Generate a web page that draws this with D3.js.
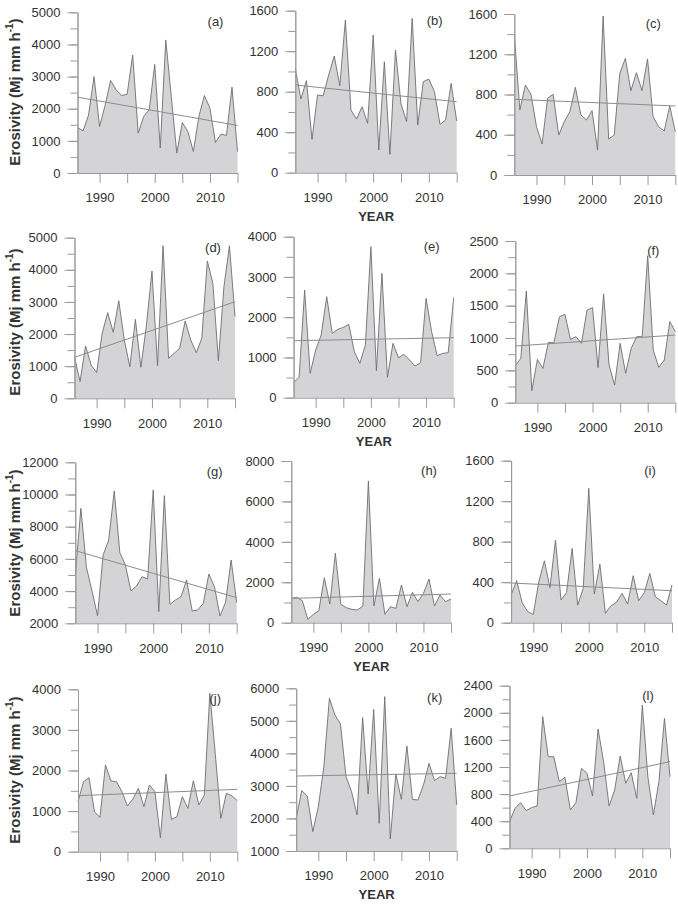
<!DOCTYPE html>
<html><head><meta charset="utf-8">
<script src="https://cdn.jsdelivr.net/npm/d3@7"></script>
<style>body{margin:0;background:#fff} svg{display:block}</style>
</head><body>
<svg id="chart" width="678" height="910"></svg>
<script>
// ---------- data ----------
const years = [1986,1987,1988,1989,1990,1991,1992,1993,1994,1995,1996,1997,1998,1999,2000,
               2001,2002,2003,2004,2005,2006,2007,2008,2009,2010,2011,2012,2013,2014,2015];
const panelLabels = ['(a)','(b)','(c)','(d)','(e)','(f)','(g)','(h)','(i)','(j)','(k)','(l)'];
const seriesA = [1420,1310,1800,3000,1450,2100,2880,2590,2410,2450,3670,1240,1760,1970,3380,780,4140,2380,620,1570,1290,670,1760,2410,2020,950,1210,1170,2670,670];
const seriesB = [1030,728,909,329,767,760,965,1152,859,1508,619,530,652,487,1360,224,1096,181,1211,678,504,1524,471,899,925,800,477,520,882,510];
const seriesC = [1400,646,894,802,480,308,762,802,397,530,629,871,596,547,639,248,1580,358,397,1010,1159,838,1017,838,1153,580,480,437,686,430];
const seriesD = [1297,519,1629,1037,799,2023,2666,2054,3039,1815,985,2458,965,2282,3963,1017,4751,1245,1400,1556,2407,1815,1421,1867,4274,3579,1172,3475,4751,2541];
const seriesE = [381,505,2675,605,1184,1557,2509,1598,1698,1747,1822,1143,853,1308,3752,671,3089,505,1350,994,1077,936,787,870,2468,1640,1043,1101,1118,2484];
const seriesF = [572,686,1727,186,670,531,933,928,1330,1366,979,1021,918,1433,1469,541,1680,582,273,918,454,840,1021,1021,2273,814,546,660,1253,1098];
const seriesG = [4961,9143,5478,4000,2476,6244,7176,10220,6389,5623,4008,4319,4898,4754,10282,2725,9930,3180,3449,3656,4691,2766,2828,3242,5064,4277,2455,3304,5933,3284];
const seriesH = [1204,1254,1089,165,412,594,2228,924,3432,908,743,660,627,825,7013,825,2195,412,792,709,1865,792,1502,1040,1452,2162,825,1370,1040,1172];
const seriesI = [273,415,198,109,82,405,612,346,816,224,300,734,174,339,1327,283,579,92,168,201,290,184,464,217,296,487,257,217,174,372];
const seriesJ = [1232,1725,1823,986,846,2136,1741,1725,1478,1125,1298,1561,1109,1643,1478,345,1914,797,862,1355,1068,1749,1150,1396,3901,2400,821,1437,1380,1257];
const seriesK = [2004,2855,2691,1594,2363,3600,5693,5180,4904,3285,2824,2107,5098,2752,5355,1850,5744,1369,3367,2588,4227,2588,2568,3029,3695,3162,3285,3234,4770,2414];
const seriesL = [393,590,674,556,600,625,1943,1352,1352,984,1048,566,674,1180,1107,772,1761,1279,625,861,1362,959,1116,738,2115,1057,492,984,1918,1057];
const allSeries = [seriesA,seriesB,seriesC,seriesD,seriesE,seriesF,seriesG,seriesH,seriesI,seriesJ,seriesK,seriesL];
// linear trend values at 1986 and 2015
const trendStart = [2360,866,752,1276,1416,876,6513,1204,392,1380,3305,772];
const trendEnd   = [1480,701,686,3008,1491,1046,3594,1419,316,1536,3387,1279];
// y-axis ranges and tick steps
const yMin  = [0,0,0,0,0,0,2000,0,0,0,1000,0];
const yMax  = [5000,1600,1600,5000,4000,2500,12000,8000,1600,4000,6000,2400];
const yStep = [1000,400,400,1000,1000,500,2000,2000,400,1000,1000,400];
const xTicks = [1990,1995,2000,2005,2010,2015];
const xLabelled = [1990,2000,2010];

// ---------- layout (pixel boxes: left, right, top, bottom) ----------
const layout = [
  [77.5,237.5,12.3,173],[295.3,456.7,10.7,172.7],[514.3,675.3,14,175],
  [74.5,235,237.7,398.3],[293.6,453.7,236.7,397.7],[515.3,675.3,241,402.7],
  [75.3,236.7,462.3,623.3],[291.3,451,461,622.7],[511.1,672,460.7,622.7],
  [78,237.3,689.3,851.7],[296.2,456.7,688.3,851],[509.5,670,685.7,848.3]
];
const rowTitleY = [92, 322, 543, 770];

const svg = d3.select('#chart');
const font = 'Liberation Sans, Arial, sans-serif';
const axisCol = '#9a9a9a', textCol = '#333';

allSeries.forEach((vals, i) => {
  const [L,R,T,B] = layout[i];
  const x = d3.scaleLinear().domain([1986,2015]).range([L,R]);
  const y = d3.scaleLinear().domain([yMin[i], yMax[i]]).range([B,T]);
  const g = svg.append('g');
  const data = years.map((yr,k)=>({yr, v: vals[k]}));

  g.append('path').datum(data)
    .attr('d', d3.area().x(d=>x(d.yr)).y0(B).y1(d=>y(d.v)))
    .attr('fill','#d4d4d6').attr('stroke','none');
  g.append('path').datum(data)
    .attr('d', d3.line().x(d=>x(d.yr)).y(d=>y(d.v)))
    .attr('fill','none').attr('stroke','#6e6e6e').attr('stroke-width',0.9);
  // trend
  g.append('line')
    .attr('x1',x(1986)).attr('y1',y(trendStart[i]))
    .attr('x2',x(2015)).attr('y2',y(trendEnd[i]))
    .attr('stroke','#8c8c8c').attr('stroke-width',1);

  // y axis: minor
  const minorVals = d3.range(yMin[i], yMax[i]+1e-9, yStep[i]/2);
  const majorVals = d3.range(yMin[i], yMax[i]+1e-9, yStep[i]);
  const yMinor = g.append('g').attr('transform',`translate(${L},0)`)
    .call(d3.axisLeft(y).tickValues(minorVals).tickSize(7).tickSizeOuter(0).tickFormat(''));
  const yMajor = g.append('g').attr('transform',`translate(${L},0)`)
    .call(d3.axisLeft(y).tickValues(majorVals).tickSize(10).tickSizeOuter(0).tickPadding(7).tickFormat(d3.format('d')));
  // x axis
  const xAx = g.append('g').attr('transform',`translate(0,${B})`)
    .call(d3.axisBottom(x).tickValues(xTicks).tickSize(10).tickSizeOuter(0).tickPadding(10)
      .tickFormat(d => xLabelled.includes(d) ? d : ''));
  [yMinor,yMajor,xAx].forEach(a=>{
    a.selectAll('path,line').attr('stroke',axisCol).attr('stroke-width',1);
    a.selectAll('text').attr('fill',textCol).attr('font-size',13).attr('font-family',font);
  });
  // panel label
  g.append('text').attr('x', R-22).attr('y', T+14).attr('text-anchor','middle')
    .attr('font-family',font).attr('font-size',13).attr('fill',textCol).text(panelLabels[i]);

  // YEAR under middle column
  if (i % 3 === 1) {
    g.append('text').attr('x', x(2000)+3).attr('y', B+48).attr('text-anchor','middle')
      .attr('font-family',font).attr('font-size',13).attr('font-weight','bold')
      .attr('fill',textCol).text('YEAR');
  }
  // y title in first column
  if (i % 3 === 0) {
    const r = i/3;
    const t = g.append('text').attr('transform',`translate(16,${rowTitleY[r]}) rotate(-90)`)
      .attr('text-anchor','middle').attr('dominant-baseline','middle')
      .attr('font-family',font).attr('font-size',15).attr('font-weight','bold').attr('fill',textCol);
    t.append('tspan').text('Erosivity (Mj mm h');
    t.append('tspan').attr('baseline-shift','super').attr('font-size',10).text('-1');
    t.append('tspan').text(')');
  }
});
</script>
</body></html>
